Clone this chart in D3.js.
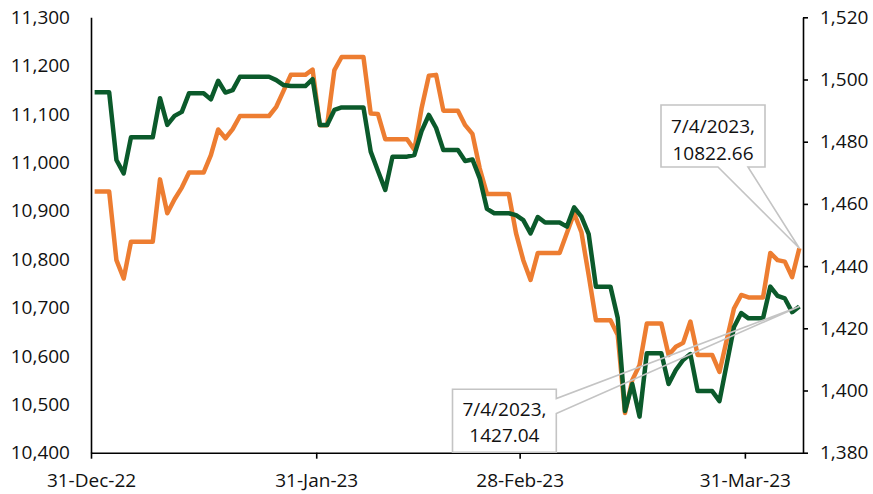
<!DOCTYPE html>
<html>
<head>
<meta charset="utf-8">
<script src="https://cdn.jsdelivr.net/npm/d3@7"></script>
<style>
  body { margin: 0; background: #fff; }
  text { font-family: "Open Sans", sans-serif; }
</style>
</head>
<body>
<div id="chart"></div>
<script>
// daily values, 31-Dec-22 .. 7-Apr-23 (weekends carry the last value)
var orange_values = [
  10940, 10940, 10940, 10798, 10760, 10836, 10836, 10836,
  10836, 10965, 10895, 10924, 10948, 10979, 10979,
  10979, 11015, 11068, 11050, 11069, 11096, 11096,
  11096, 11096, 11096, 11115, 11148, 11181, 11181,
  11181, 11192, 11077, 11077, 11191, 11218, 11218,
  11218, 11218, 11101, 11100, 11048, 11048, 11048,
  11048, 11026, 11112, 11179, 11181, 11107, 11107,
  11107, 11077, 11059, 10988, 10935, 10935, 10935,
  10935, 10854, 10798, 10757, 10813, 10813, 10813,
  10813, 10854, 10895, 10856, 10767, 10674, 10674,
  10674, 10643, 10482, 10550, 10581, 10667, 10667,
  10667, 10602, 10619, 10627, 10671, 10602, 10602,
  10602, 10567, 10633, 10698, 10726, 10721, 10721,
  10721, 10813, 10798, 10795, 10763, 10822.66
];

var green_values = [
  1495.9, 1495.9, 1495.9, 1474.1, 1469.8, 1481.4, 1481.4, 1481.4,
  1481.4, 1494.0, 1485.4, 1488.3, 1489.6, 1495.6, 1495.6,
  1495.6, 1493.6, 1499.6, 1495.8, 1496.6, 1500.9, 1500.9,
  1500.9, 1500.9, 1500.9, 1499.8, 1498.2, 1497.9, 1497.9,
  1497.9, 1500.1, 1485.4, 1485.4, 1490.2, 1491.0, 1491.0,
  1491.0, 1491.0, 1476.8, 1470.6, 1464.5, 1475.2, 1475.2,
  1475.2, 1475.7, 1483.4, 1488.6, 1484.4, 1477.3, 1477.3,
  1477.3, 1473.8, 1474.3, 1468.3, 1458.4, 1457.0, 1457.0,
  1457.0, 1456.4, 1454.8, 1450.5, 1455.8, 1454.0, 1454.0,
  1454.0, 1452.7, 1458.9, 1455.9, 1450.3, 1433.4, 1433.4,
  1433.4, 1423.3, 1393.4, 1402.1, 1391.6, 1412.0, 1412.0,
  1412.0, 1402.1, 1406.6, 1409.8, 1411.7, 1399.8, 1399.8,
  1399.8, 1396.6, 1408.5, 1420.4, 1424.9, 1423.2, 1423.2,
  1423.2, 1433.4, 1430.4, 1429.6, 1425.2, 1427.04
];

var left_ticks = [10400, 10500, 10600, 10700, 10800, 10900, 11000, 11100, 11200, 11300];
var right_ticks = [1380, 1400, 1420, 1440, 1460, 1480, 1500, 1520];
var date_ticks = ['2022-12-31', '2023-01-31', '2023-02-28', '2023-03-31'];
var orange_label = ['7/4/2023,', '10822.66'];
var green_label = ['7/4/2023,', '1427.04'];

var chart_width = 873;
var chart_height = 494;
var plot_left = 91, plot_right = 803, plot_top = 17.3, plot_bottom = 452.7;

var parse = d3.timeParse('%Y-%m-%d');
var start = parse('2022-12-31');
var end = parse('2023-04-08');
var dates = d3.timeDay.range(start, end);

// Dates sit in the middle of their day slot, like Excel's date axis.
var x_scale = d3.scaleTime()
                .domain([start, end])
                .range([plot_left, plot_right]);

var y_left = d3.scaleLinear()
               .domain([10400, 11300])
               .range([plot_bottom, plot_top]);

var y_right = d3.scaleLinear()
                .domain([1380, 1520])
                .range([plot_bottom, plot_top]);

var svg = d3.select('#chart')
            .append('svg')
            .attr('width', chart_width)
            .attr('height', chart_height);

// Axes
var left_axis = svg.append('g')
   .attr('transform', 'translate(' + plot_left + ',0)')
   .call(d3.axisLeft(y_left).tickValues(left_ticks).tickFormat(d3.format(','))
          .tickSizeInner(0).tickSizeOuter(0).tickPadding(21));

var right_axis = svg.append('g')
   .attr('transform', 'translate(' + plot_right + ',0)')
   .call(d3.axisRight(y_right).tickValues(right_ticks).tickFormat(d3.format(','))
          .tickSizeInner(5).tickSizeOuter(0).tickPadding(12));

var bottom_axis = svg.append('g')
   .attr('transform', 'translate(0,' + plot_bottom + ')')
   .call(d3.axisBottom(x_scale).tickValues(date_ticks.map(parse))
          .tickFormat(d3.timeFormat('%d-%b-%y'))
          .tickSizeInner(6).tickSizeOuter(0).tickPadding(15));

[left_axis, right_axis, bottom_axis].forEach(function(g){
  g.selectAll('path, line').attr('stroke', '#000').attr('stroke-width', 1.6);
  g.selectAll('text').attr('font-family', '"Open Sans", sans-serif')
   .attr('font-size', 19).attr('fill', '#111');
});

// Lines
function mid(d){ return x_scale(d3.timeHour.offset(d, 12)); }

var orange_line = d3.line()
                    .x(function(d, i){ return mid(dates[i]); })
                    .y(function(d){ return y_left(d); });

var green_line = d3.line()
                   .x(function(d, i){ return mid(dates[i]); })
                   .y(function(d){ return y_right(d); });

svg.append('path')
   .datum(orange_values)
   .attr('d', orange_line)
   .attr('fill', 'none')
   .attr('stroke', '#ED7D31')
   .attr('stroke-width', 4.5)
   .attr('stroke-linejoin', 'round');

svg.append('path')
   .datum(green_values)
   .attr('d', green_line)
   .attr('fill', 'none')
   .attr('stroke', '#0B5A2B')
   .attr('stroke-width', 4.5)
   .attr('stroke-linejoin', 'round');

// Callout labels for the last point
var last = dates.length - 1;

function callout(lines, box, anchor, wedge) {
  var g = svg.append('g');
  g.append('rect')
   .attr('x', box.x0).attr('y', box.y0)
   .attr('width', box.x1 - box.x0).attr('height', box.y1 - box.y0)
   .attr('fill', '#fff');
  var p = d3.path();
  if (wedge.side === 'bottom') {
    p.moveTo(box.x0, box.y0); p.lineTo(box.x1, box.y0); p.lineTo(box.x1, box.y1);
    p.lineTo(wedge.a, box.y1); p.lineTo(anchor[0], anchor[1]); p.lineTo(wedge.b, box.y1);
    p.lineTo(box.x0, box.y1); p.closePath();
  } else {
    p.moveTo(box.x0, box.y0); p.lineTo(box.x1, box.y0); p.lineTo(box.x1, wedge.a);
    p.lineTo(anchor[0], anchor[1]); p.lineTo(box.x1, wedge.b); p.lineTo(box.x1, box.y1);
    p.lineTo(box.x0, box.y1); p.closePath();
  }
  g.append('path')
   .attr('d', p.toString())
   .attr('fill', 'none')
   .attr('stroke', '#c4c4c4')
   .attr('stroke-width', 1.6);
  g.selectAll('text')
   .data(lines)
   .enter()
   .append('text')
   .text(function(d){ return d; })
   .attr('x', (box.x0 + box.x1) / 2)
   .attr('y', function(d, i){ return box.t + i * 26.5; })
   .attr('text-anchor', 'middle')
   .attr('font-size', 19)
   .attr('fill', '#111');
}

callout(orange_label,
        {x0: 661, x1: 765, y0: 105, y1: 167, t: 133},
        [mid(dates[last]), y_left(orange_values[last])],
        {side: 'bottom', a: 748, b: 718});

callout(green_label,
        {x0: 452.5, x1: 556.3, y0: 389.3, y1: 452.3, t: 415.5},
        [mid(dates[last]), y_right(green_values[last])],
        {side: 'right', a: 398.5, b: 413.5});
</script>
</body>
</html>
